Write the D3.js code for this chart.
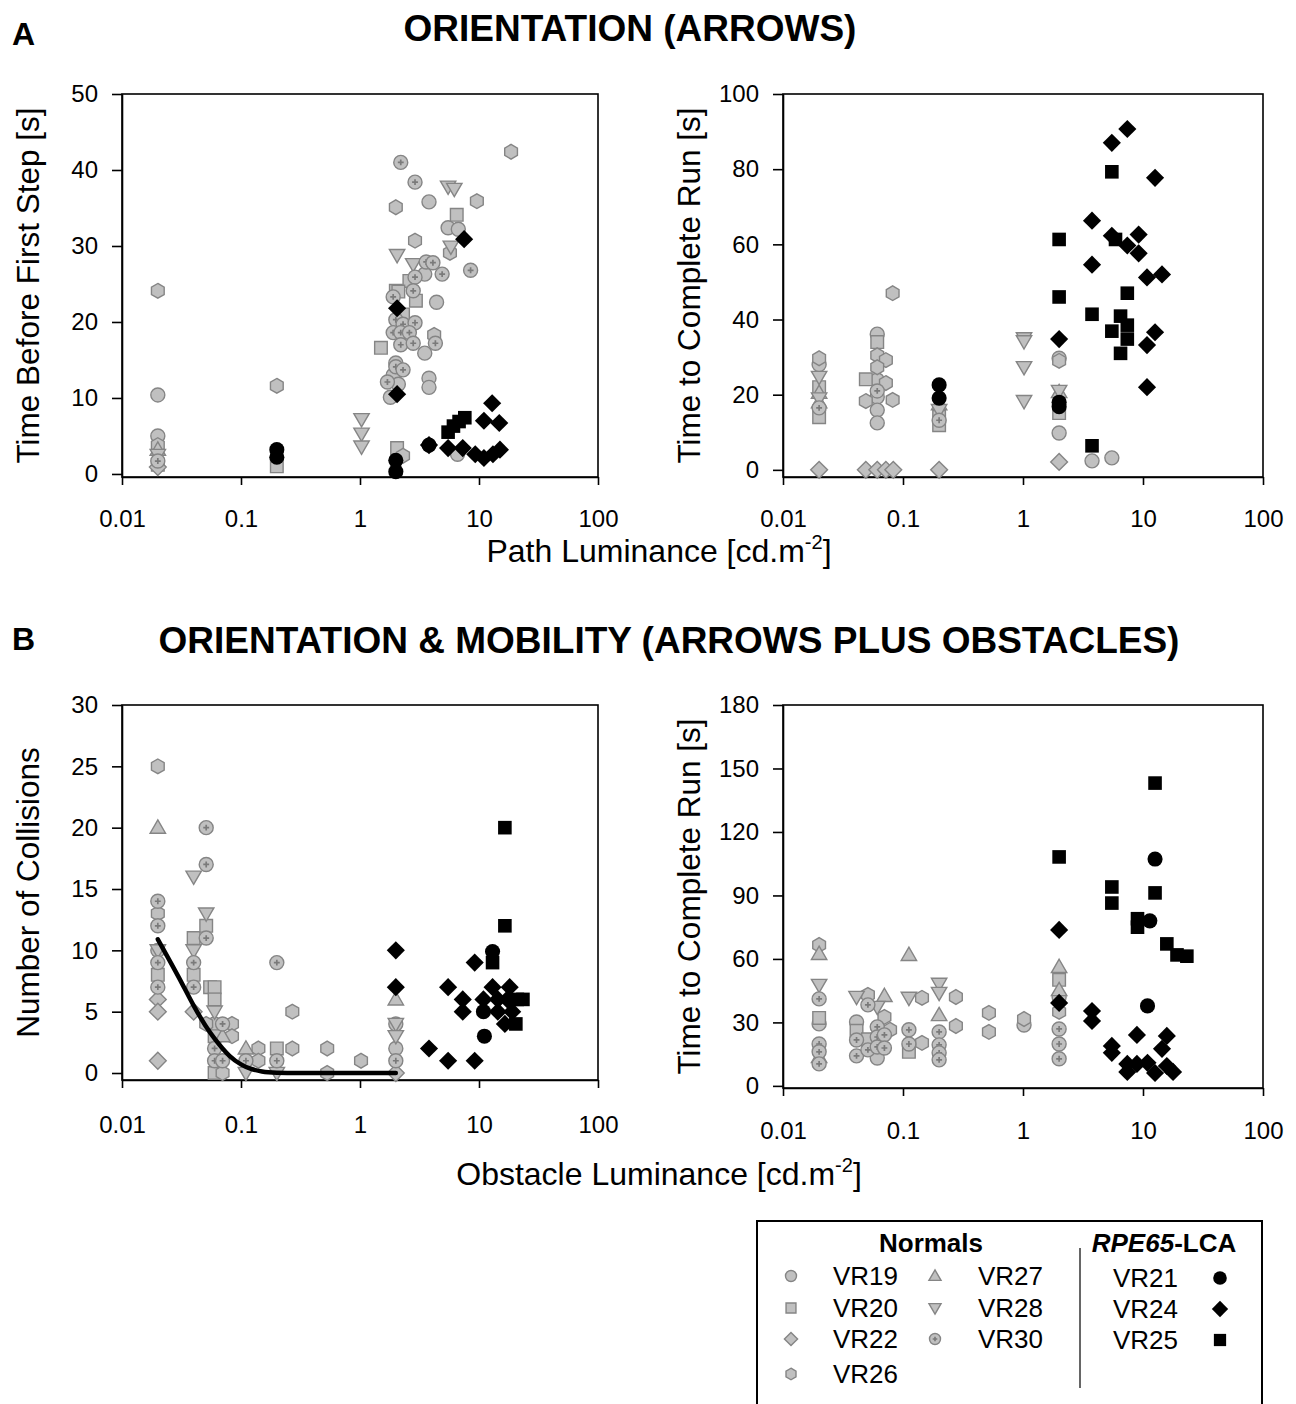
<!DOCTYPE html>
<html>
<head>
<meta charset="utf-8">
<script src="https://cdn.jsdelivr.net/npm/d3@7"></script>
<style>
  body { margin: 0; background: #fff; }
  text { font-family: Arial, "Liberation Sans", sans-serif; fill: #000; }
</style>
</head>
<body>
<svg id="fig" width="1296" height="1404"></svg>
<script>
// subjects and their marker shapes
var normals = ["VR19", "VR20", "VR22", "VR26", "VR27", "VR28", "VR30"];
var patients = ["VR21", "VR24", "VR25"];
var shapes = {
  VR19: "circle", VR20: "square", VR22: "diamond", VR26: "hexagon",
  VR27: "triangle", VR28: "triangleDown", VR30: "crossCircle",
  VR21: "circle", VR24: "diamond", VR25: "square"
};
var lumTicks = [0.01, 0.1, 1, 10, 100];

// A left: time before first step [s]  (subject, path luminance, value)
var firstStep = [
  ["VR19",0.02,10.4],["VR19",0.02,5.0],["VR19",3.8,35.8],["VR19",5.5,32.4],["VR19",6.7,32.2],
  ["VR19",3.5,26.3],["VR19",4.4,22.6],["VR19",3.5,15.9],["VR19",3.8,12.6],["VR19",3.8,11.4],
  ["VR19",1.8,10.1],["VR19",2.0,14.6],["VR19",1.9,13.0],["VR19",2.1,11.8],["VR19",6.6,2.6],
  ["VR20",0.02,1.2],["VR20",0.2,1.0],["VR20",6.5,34.1],["VR20",2.6,25.4],["VR20",2.0,24.1],
  ["VR20",2.1,24.0],["VR20",2.95,22.8],["VR20",1.5,16.6],["VR20",2.05,3.4],["VR20",2.3,21.0],
  ["VR22",0.02,0.9],
  ["VR26",0.02,24.1],["VR26",0.02,3.8],["VR26",0.2,11.6],["VR26",2.0,35.1],["VR26",2.9,30.7],
  ["VR26",9.6,35.9],["VR26",18.6,42.4],["VR26",5.7,29.1],["VR26",4.2,18.3],["VR26",2.3,2.4],
  ["VR27",0.02,3.2],
  ["VR28",0.02,2.5],["VR28",1.03,7.2],["VR28",1.03,5.3],["VR28",1.03,3.6],["VR28",5.5,37.8],
  ["VR28",6.2,37.5],["VR28",5.8,29.9],["VR28",2.05,28.8],["VR28",2.8,27.6],
  ["VR30",0.02,1.7],["VR30",2.2,41.0],["VR30",2.9,38.4],["VR30",3.6,27.9],["VR30",4.1,27.8],
  ["VR30",4.9,26.3],["VR30",8.5,26.8],["VR30",2.9,25.9],["VR30",2.8,24.1],["VR30",1.9,23.3],
  ["VR30",2.0,20.3],["VR30",2.3,19.7],["VR30",2.9,19.9],["VR30",1.9,18.6],["VR30",2.2,18.6],
  ["VR30",2.6,18.6],["VR30",2.2,17.0],["VR30",2.8,17.2],["VR30",4.3,17.2],["VR30",1.7,12.1],
  ["VR30",2.0,14.1],["VR30",2.3,13.7],
  ["VR21",0.2,3.2],["VR21",0.2,2.2],["VR21",2.0,1.8],["VR21",2.0,0.3],["VR21",3.8,3.8],
  ["VR24",7.5,30.9],["VR24",2.05,21.8],["VR24",2.05,10.5],["VR24",3.8,3.8],["VR24",12.9,9.3],
  ["VR24",11.0,7.0],["VR24",14.8,6.7],["VR24",5.5,3.4],["VR24",7.3,3.4],["VR24",9.3,2.6],
  ["VR24",11.0,2.1],["VR24",13.1,2.6],["VR24",15.0,3.2],
  ["VR25",5.5,5.5],["VR25",6.1,6.3],["VR25",6.8,6.9],["VR25",7.6,7.4]
];

// A right: time to complete run [s]
var runTimeA = [
  ["VR19",0.02,28.0],["VR19",0.061,36.1],["VR19",0.061,23.9],["VR19",0.061,19.4],["VR19",0.061,15.9],
  ["VR19",0.061,12.5],["VR19",2.0,29.7],["VR19",2.0,9.8],["VR19",3.76,2.4],["VR19",5.5,3.2],
  ["VR20",0.02,22.0],["VR20",0.02,14.0],["VR20",0.061,34.0],["VR20",0.049,24.1],["VR20",0.2,14.1],
  ["VR20",0.2,11.9],["VR20",2.0,15.1],
  ["VR22",0.02,0],["VR22",0.049,0],["VR22",0.061,0],["VR22",0.072,0],["VR22",0.083,0],
  ["VR22",0.2,0],["VR22",2.0,2.1],
  ["VR26",0.02,29.7],["VR26",0.082,47.0],["VR26",0.061,30.5],["VR26",0.072,29.2],["VR26",0.061,27.3],
  ["VR26",0.072,23.1],["VR26",0.049,18.3],["VR26",0.082,18.6],["VR26",2.0,29.0],
  ["VR27",0.02,20.5],["VR27",0.02,18.0],["VR27",0.2,17.5],["VR27",2.0,20.7],
  ["VR28",0.02,24.7],["VR28",0.02,19.0],["VR28",0.2,15.9],["VR28",1.02,35.0],["VR28",1.02,34.2],
  ["VR28",1.02,27.3],["VR28",1.02,18.3],["VR28",2.0,21.0],
  ["VR30",0.02,16.5],["VR30",0.061,21.0],["VR30",0.2,13.2],
  ["VR21",0.2,22.6],["VR21",0.2,19.1],["VR21",2.0,18.0],["VR21",2.0,16.8],
  ["VR24",2.0,34.8],["VR24",3.76,66.3],["VR24",3.76,54.6],["VR24",5.5,87.0],["VR24",7.4,90.7],
  ["VR24",12.6,77.7],["VR24",5.5,62.3],["VR24",9.2,62.6],["VR24",7.4,59.7],["VR24",9.2,57.6],
  ["VR24",10.8,51.2],["VR24",14.4,52.0],["VR24",12.6,36.6],["VR24",10.8,33.2],["VR24",10.8,22.0],
  ["VR25",2.0,61.3],["VR25",2.0,46.0],["VR25",3.76,6.4],["VR25",3.76,41.4],["VR25",5.5,79.3],
  ["VR25",5.9,61.3],["VR25",7.4,47.0],["VR25",6.5,40.9],["VR25",7.4,38.5],["VR25",7.4,34.8],
  ["VR25",5.5,36.9],["VR25",6.5,31.0]
];

// B left: number of collisions (subject, obstacle luminance, count)
var collisions = [
  ["VR19",0.02,10],["VR19",0.06,4],["VR19",2.0,4],["VR19",2.0,2],
  ["VR20",0.02,8],["VR20",0.04,11],["VR20",0.04,8],["VR20",0.051,12],["VR20",0.055,7],
  ["VR20",0.06,7],["VR20",0.06,6],["VR20",0.06,3],["VR20",0.06,0],["VR20",0.2,2],
  ["VR22",0.02,6],["VR22",0.02,5],["VR22",0.02,1],["VR22",0.04,5],["VR22",2.0,0],
  ["VR26",0.02,25],["VR26",0.02,13],["VR26",0.051,4],["VR26",0.07,0],["VR26",0.084,4],
  ["VR26",0.084,3],["VR26",0.14,2],["VR26",0.14,1],["VR26",0.27,5],["VR26",0.27,2],
  ["VR26",0.53,2],["VR26",0.53,0],["VR26",1.02,1],
  ["VR27",0.02,20],["VR27",0.07,3],["VR27",0.11,2],["VR27",2.0,6],
  ["VR28",0.02,10],["VR28",0.04,16],["VR28",0.04,10],["VR28",0.051,13],["VR28",0.06,5],
  ["VR28",0.11,0],["VR28",0.2,0],["VR28",2.0,4],["VR28",2.0,3],
  ["VR30",0.02,14],["VR30",0.02,12],["VR30",0.02,9],["VR30",0.02,7],["VR30",0.04,9],
  ["VR30",0.04,7],["VR30",0.051,20],["VR30",0.051,17],["VR30",0.051,11],["VR30",0.06,2],
  ["VR30",0.06,1],["VR30",0.07,4],["VR30",0.07,1],["VR30",0.11,1],["VR30",0.2,9],
  ["VR30",0.2,1],["VR30",2.0,1],
  ["VR21",13.0,9.9],["VR21",10.9,5],["VR21",11.1,3],
  ["VR24",2.0,10],["VR24",2.0,7],["VR24",9.2,9],["VR24",5.5,7],["VR24",13.0,7],
  ["VR24",18.1,7],["VR24",7.3,6],["VR24",10.9,6],["VR24",14.4,6],["VR24",17.3,6],
  ["VR24",7.3,5],["VR24",14.4,5],["VR24",19.0,5],["VR24",16.5,4],["VR24",3.8,2],
  ["VR24",5.5,1],["VR24",9.2,1],
  ["VR25",16.5,20],["VR25",16.5,12],["VR25",13.0,9],["VR25",21.0,6],["VR25",23.4,6],["VR25",20.4,4]
];
// fitted curve of the normals
var fitLum = [0.02, 0.03, 0.04, 0.05, 0.06, 0.07, 0.08, 0.1, 0.12, 0.15, 0.2, 0.3, 0.5, 1, 2];
var fitCollisions = [10.9, 7.8, 5.5, 3.9, 2.8, 2.0, 1.4, 0.7, 0.35, 0.13, 0.03, 0, 0, 0, 0];

// B right: time to complete run [s]
var runTimeB = [
  ["VR19",0.02,29.3],["VR19",0.041,30.2],["VR19",0.061,13.2],["VR19",1.02,28.8],["VR19",2.0,42.0],
  ["VR20",0.02,32.1],["VR20",0.041,26.0],["VR20",0.051,22.0],["VR20",0.112,16.1],["VR20",2.0,50.1],
  ["VR26",0.02,66.6],["VR26",0.051,43.0],["VR26",0.07,32.6],["VR26",0.078,26.5],["VR26",0.144,41.6],
  ["VR26",0.144,20.3],["VR26",0.276,42.0],["VR26",0.276,28.3],["VR26",0.52,34.5],["VR26",0.52,25.5],
  ["VR26",1.02,31.6],["VR26",2.0,35.0],
  ["VR27",0.02,62.4],["VR27",0.02,13.7],["VR27",0.07,42.5],["VR27",0.112,61.9],["VR27",0.2,33.5],
  ["VR27",2.0,56.2],["VR27",2.0,45.3],
  ["VR28",0.02,47.7],["VR28",0.041,42.0],["VR28",0.061,37.3],["VR28",0.112,41.6],["VR28",0.2,48.2],
  ["VR28",0.2,43.9],
  ["VR30",0.02,41.1],["VR30",0.02,19.8],["VR30",0.02,16.1],["VR30",0.02,10.4],["VR30",0.041,21.7],
  ["VR30",0.041,14.2],["VR30",0.051,38.3],["VR30",0.051,17.0],["VR30",0.061,27.9],["VR30",0.061,23.1],
  ["VR30",0.061,18.4],["VR30",0.07,24.1],["VR30",0.07,17.9],["VR30",0.112,26.5],["VR30",0.112,19.8],
  ["VR30",0.2,25.5],["VR30",0.2,19.4],["VR30",0.2,15.6],["VR30",0.2,12.3],["VR30",2.0,26.9],
  ["VR30",2.0,19.8],["VR30",2.0,12.8],
  ["VR21",12.6,107.2],["VR21",11.4,78.0],["VR21",10.9,37.8],
  ["VR24",2.0,73.7],["VR24",2.0,39.2],["VR24",3.76,35.4],["VR24",3.76,30.7],["VR24",5.5,18.9],
  ["VR24",5.5,15.6],["VR24",7.4,10.4],["VR24",7.4,6.6],["VR24",8.9,24.1],["VR24",8.9,10.4],
  ["VR24",10.9,10.9],["VR24",12.6,6.1],["VR24",14.4,17.5],["VR24",15.8,23.6],["VR24",15.8,9.4],
  ["VR24",17.8,6.6],
  ["VR25",2.0,108.2],["VR25",5.5,94.0],["VR25",5.5,86.4],["VR25",9.0,79.0],["VR25",9.0,75.0],
  ["VR25",12.6,143.1],["VR25",12.6,91.2],["VR25",15.8,67.1],["VR25",19.2,61.9],["VR25",23.2,61.3]
];

var svg = d3.select("#fig");

// marker outlines, r is the nominal half size in px
function markerPath(shape, r) {
  var p = d3.path();
  if (shape === "circle" || shape === "crossCircle") {
    p.arc(0, 0, r, 0, 2 * Math.PI);
  } else if (shape === "square") {
    p.rect(-r * 0.9, -r * 0.9, r * 1.8, r * 1.8);
  } else if (shape === "diamond") {
    p.moveTo(0, -r * 1.2); p.lineTo(r * 1.2, 0); p.lineTo(0, r * 1.2); p.lineTo(-r * 1.2, 0); p.closePath();
  } else if (shape === "triangle") {
    p.moveTo(0, -r * 1.1); p.lineTo(r * 1.1, r * 0.8); p.lineTo(-r * 1.1, r * 0.8); p.closePath();
  } else if (shape === "triangleDown") {
    p.moveTo(0, r * 1.1); p.lineTo(r * 1.1, -r * 0.8); p.lineTo(-r * 1.1, -r * 0.8); p.closePath();
  } else if (shape === "hexagon") {
    for (var i = 0; i < 6; i++) {
      var a = -Math.PI / 2 + i * Math.PI / 3;
      if (i === 0) p.moveTo(r * 1.05 * Math.cos(a), r * 1.05 * Math.sin(a));
      else p.lineTo(r * 1.05 * Math.cos(a), r * 1.05 * Math.sin(a));
    }
    p.closePath();
  }
  return p.toString();
}

function drawMarker(g, subject, x, y, r) {
  var shape = shapes[subject];
  var isPatient = patients.indexOf(subject) >= 0;
  g.append("path")
    .attr("transform", "translate(" + x + "," + y + ")")
    .attr("d", markerPath(shape, isPatient ? r * 1.08 : r))
    .attr("fill", isPatient ? "#000" : "#c0c0c0")
    .attr("stroke", isPatient ? "none" : "#858585")
    .attr("stroke-width", 1.4);
  if (shape === "crossCircle") {
    var c = r * 0.42;
    g.append("path")
      .attr("transform", "translate(" + x + "," + y + ")")
      .attr("d", "M" + (-c) + ",0H" + c + "M0," + (-c) + "V" + c)
      .attr("stroke", "#7a7a7a")
      .attr("stroke-width", 1.7);
  }
}

var panels = [
  { data: firstStep, x0: 122, x1: 598, yTop: 94, yBot: 477, yDomain: [-0.4, 50],
    yTicks: [0, 10, 20, 30, 40, 50], label: "Time Before First Step [s]", pad: 25 },
  { data: runTimeA, x0: 783, x1: 1263, yTop: 94, yBot: 477, yDomain: [-1.9, 100],
    yTicks: [0, 20, 40, 60, 80, 100], label: "Time to Complete Run [s]", pad: 25 },
  { data: collisions, x0: 122, x1: 598, yTop: 705, yBot: 1080, yDomain: [-0.57, 30],
    yTicks: [0, 5, 10, 15, 20, 25, 30], label: "Number of Collisions", pad: 28, fit: true },
  { data: runTimeB, x0: 783, x1: 1263, yTop: 705, yBot: 1088, yDomain: [-1, 180],
    yTicks: [0, 30, 60, 90, 120, 150, 180], label: "Time to Complete Run [s]", pad: 26 }
];

panels.forEach(function(pn) {
  var x = d3.scaleLog().domain([0.01, 100]).range([pn.x0, pn.x1]);
  var y = d3.scaleLinear().domain(pn.yDomain).range([pn.yBot, pn.yTop]);

  var g = svg.append("g");

  // frame
  g.append("rect")
    .attr("x", pn.x0).attr("y", pn.yTop)
    .attr("width", pn.x1 - pn.x0).attr("height", pn.yBot - pn.yTop)
    .attr("fill", "none").attr("stroke", "#000").attr("stroke-width", 1.6);

  var xAxis = g.append("g")
    .attr("transform", "translate(0," + pn.yBot + ")")
    .call(d3.axisBottom(x).tickValues(lumTicks).tickFormat(function(d) { return String(d); })
      .tickSize(8).tickSizeOuter(0).tickPadding(pn.pad));
  var yAxis = g.append("g")
    .attr("transform", "translate(" + pn.x0 + ",0)")
    .call(d3.axisLeft(y).tickValues(pn.yTicks).tickSize(10).tickSizeOuter(0).tickPadding(14));
  [xAxis, yAxis].forEach(function(ax) {
    ax.select(".domain").attr("stroke-width", 1.6);
    ax.selectAll(".tick line").attr("stroke-width", 1.6);
    ax.selectAll(".tick text").attr("font-size", 24).attr("font-family", "Arial, 'Liberation Sans', sans-serif");
  });

  // y axis title
  var cy = (pn.yTop + pn.yBot) / 2;
  g.append("text")
    .attr("transform", "translate(" + (pn.x0 - 83) + "," + cy + ") rotate(-90)")
    .attr("text-anchor", "middle")
    .attr("font-size", 31.5)
    .text(pn.label);

  // normals first, patients on top
  var pts = pn.data.filter(function(d) { return normals.indexOf(d[0]) >= 0; })
    .concat(pn.data.filter(function(d) { return patients.indexOf(d[0]) >= 0; }));
  pts.forEach(function(d) {
    drawMarker(g, d[0], x(d[1]), y(d[2]), 7);
  });

  if (pn.fit) {
    var line = d3.line()
      .x(function(d, i) { return x(fitLum[i]); })
      .y(function(d) { return y(d); })
      .curve(d3.curveMonotoneX);
    g.append("path")
      .attr("d", line(fitCollisions))
      .attr("fill", "none")
      .attr("stroke", "#000")
      .attr("stroke-width", 4.5)
      .attr("stroke-linecap", "round");
  }
});

// x axis titles with superscript
function lumTitle(text, yPos) {
  var t = svg.append("text")
    .attr("x", 659).attr("y", yPos)
    .attr("text-anchor", "middle")
    .attr("font-size", 32);
  t.append("tspan").text(text + " [cd.m");
  t.append("tspan").attr("font-size", 20).attr("dy", -13).text("-2");
  t.append("tspan").attr("dy", 13).text("]");
}
lumTitle("Path Luminance", 562);
lumTitle("Obstacle Luminance", 1185);

// panel headings
svg.append("text").attr("x", 12).attr("y", 45).attr("font-size", 32).attr("font-weight", "bold").text("A");
svg.append("text").attr("x", 630).attr("y", 41).attr("text-anchor", "middle")
  .attr("font-size", 37).attr("font-weight", "bold").text("ORIENTATION (ARROWS)");
svg.append("text").attr("x", 12).attr("y", 650).attr("font-size", 32).attr("font-weight", "bold").text("B");
svg.append("text").attr("x", 669).attr("y", 653).attr("text-anchor", "middle")
  .attr("font-size", 37).attr("font-weight", "bold").text("ORIENTATION & MOBILITY (ARROWS PLUS OBSTACLES)");

// legend
var lg = svg.append("g");
lg.append("rect").attr("x", 757).attr("y", 1221).attr("width", 505).attr("height", 200)
  .attr("fill", "#fff").attr("stroke", "#000").attr("stroke-width", 2);
lg.append("line").attr("x1", 1080).attr("x2", 1080).attr("y1", 1248).attr("y2", 1388)
  .attr("stroke", "#333").attr("stroke-width", 1.5);
lg.append("text").attr("x", 931).attr("y", 1252).attr("text-anchor", "middle")
  .attr("font-size", 26).attr("font-weight", "bold").text("Normals");
var rt = lg.append("text").attr("x", 1164).attr("y", 1252).attr("text-anchor", "middle")
  .attr("font-size", 26).attr("font-weight", "bold");
rt.append("tspan").attr("font-style", "italic").text("RPE65");
rt.append("tspan").text("-LCA");

var legendRows = [1276, 1308, 1339, 1374];
var normalCols = [["VR19", "VR20", "VR22", "VR26"], ["VR27", "VR28", "VR30"]];
normalCols.forEach(function(col, ci) {
  var mx = ci === 0 ? 791 : 935;
  var tx = ci === 0 ? 833 : 978;
  col.forEach(function(s, i) {
    drawMarker(lg, s, mx, legendRows[i], 5.5);
    lg.append("text").attr("x", tx).attr("y", legendRows[i] + 9).attr("font-size", 26).text(s);
  });
});
var patientRows = [1278, 1309, 1340];
patients.forEach(function(s, i) {
  drawMarker(lg, s, 1220, patientRows[i], 6.3);
  lg.append("text").attr("x", 1113).attr("y", patientRows[i] + 9).attr("font-size", 26).text(s);
});
</script>
</body>
</html>
